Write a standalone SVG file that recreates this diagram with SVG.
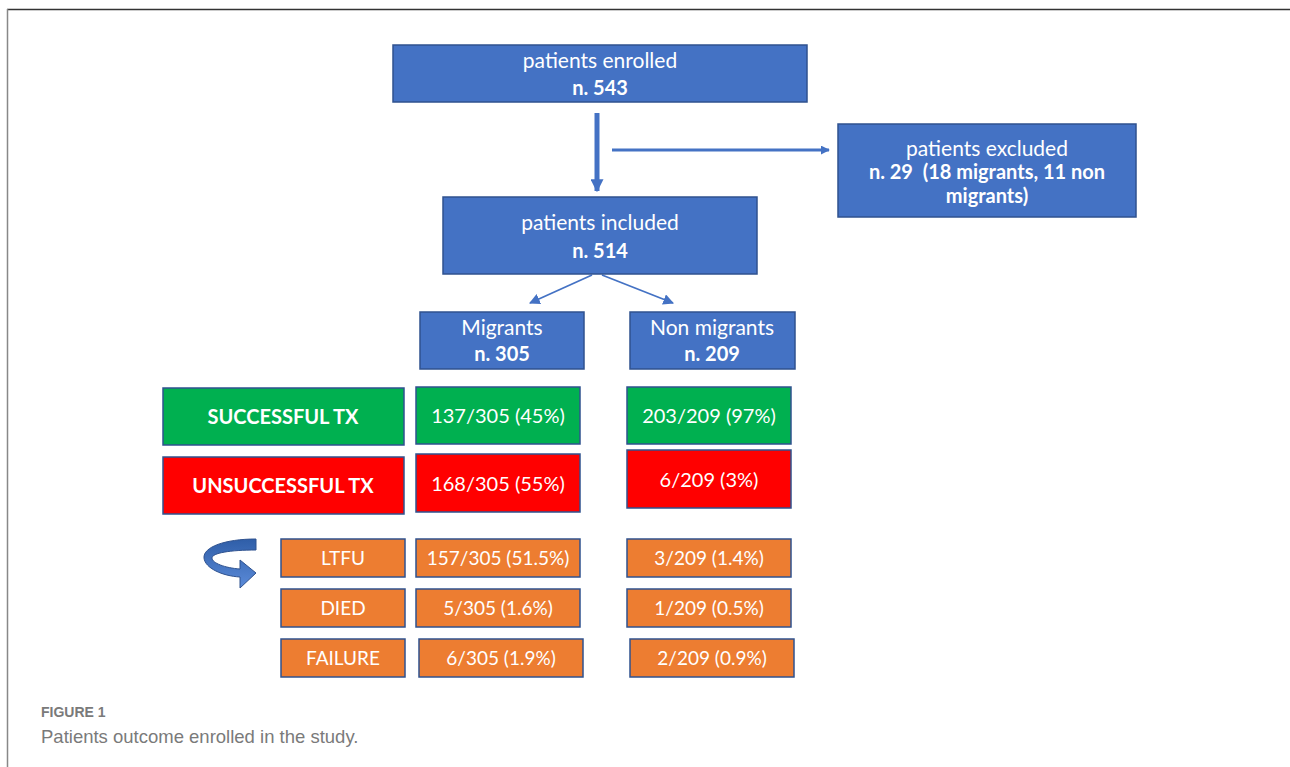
<svg xmlns="http://www.w3.org/2000/svg" width="1290" height="767" viewBox="0 0 1290 767">
<defs>
<style>
.b{fill:#4472C4;stroke:#2F528F;stroke-width:1.5}
.g{fill:#00B050;stroke:#2F528F;stroke-width:1.5}
.r{fill:#FF0000;stroke:#2F528F;stroke-width:1.5}
.o{fill:#ED7D31;stroke:#2F528F;stroke-width:1.5}
text{font-family:Lato,"Liberation Sans",Arial,sans-serif;fill:#fff;text-anchor:middle}
.t{font-size:21px}
.tb{font-size:20px;font-weight:bold}
.c{fill:#fff;font-size:20px}
.c2{fill:#fff;font-size:19px}
.cap{fill:#7a7a7a;text-anchor:start;font-family:"Liberation Sans",Arial,sans-serif}
.ln{stroke:#4472C4;fill:none}
</style>
<marker id="ah" viewBox="0 0 10 10" refX="9" refY="5" markerWidth="2.6" markerHeight="2.6" orient="auto" markerUnits="strokeWidth"><path d="M0,0 L10,5 L0,10 Z" fill="#4472C4"/></marker>
<marker id="ah3" viewBox="0 0 10 10" refX="9" refY="5" markerWidth="3" markerHeight="3" orient="auto" markerUnits="strokeWidth"><path d="M0,0 L10,5 L0,10 Z" fill="#4472C4"/></marker>
<marker id="ah2" viewBox="0 0 10 10" refX="9" refY="5" markerWidth="6" markerHeight="6" orient="auto" markerUnits="strokeWidth"><path d="M0,0 L10,5 L0,10 Z" fill="#4472C4"/></marker>
<linearGradient id="cg" x1="0" y1="0" x2="0" y2="1"><stop offset="0" stop-color="#2F5EA8"/><stop offset="1" stop-color="#5B8BD9"/></linearGradient>
</defs>
<rect x="0" y="0" width="1290" height="767" fill="#fff"/>
<g id="frame">
<line x1="7" y1="9.5" x2="1290" y2="9.5" stroke="#333" stroke-width="1.5"/>
<line x1="7.5" y1="9" x2="7.5" y2="767" stroke="#888" stroke-width="1.5"/>
</g>
<g id="connectors">
<line class="ln" x1="597" y1="113" x2="597" y2="191" stroke-width="5" marker-end="url(#ah)"/>
<line class="ln" x1="612" y1="150" x2="829" y2="150" stroke-width="3" marker-end="url(#ah3)"/>
<line class="ln" x1="592" y1="275" x2="530" y2="303" stroke-width="1.8" marker-end="url(#ah2)"/>
<line class="ln" x1="602" y1="275" x2="673" y2="303" stroke-width="1.8" marker-end="url(#ah2)"/>
<path id="curved-arrow" d="M 256 539 C 225 539, 203 547, 204 558 C 205 568, 222 576, 240 577 L 240 588 L 256 573 L 240 560 L 240 569 C 225 568, 212 563, 212 558 C 212 553, 230 550, 256 550 Z" fill="url(#cg)" stroke="#2F528F" stroke-width="1"/>
</g>
<g id="enrolled"><rect class="b" x="393" y="45" width="414" height="57"/><text class="t" x="600" y="68">patients enrolled</text><text class="tb" x="600" y="95">n. 543</text></g>
<g id="excluded"><rect class="b" x="838" y="124" width="298" height="93"/><text class="t" x="987" y="156">patients excluded</text><text class="tb" x="987" y="179" xml:space="preserve">n. 29&#160; (18 migrants, 11 non</text><text class="tb" x="987" y="203">migrants)</text></g>
<g id="included"><rect class="b" x="443" y="197" width="314" height="77"/><text class="t" x="600" y="230">patients included</text><text class="tb" x="600" y="258">n. 514</text></g>
<g id="migrants"><rect class="b" x="420" y="312" width="164" height="57"/><text class="t" x="502" y="335">Migrants</text><text class="tb" x="502" y="361">n. 305</text></g>
<g id="nonmigrants"><rect class="b" x="630" y="312" width="165" height="57"/><text class="t" x="712" y="335">Non migrants</text><text class="tb" x="712" y="361">n. 209</text></g>
<g id="successful"><rect class="g" x="163" y="388" width="241" height="57"/><text class="tb" x="283" y="424">SUCCESSFUL TX</text></g>
<g id="succ-m"><rect class="g" x="416" y="387" width="164" height="57"/><text class="c" x="498" y="423">137/305 (45%)</text></g>
<g id="succ-nm"><rect class="g" x="627" y="387" width="164" height="57"/><text class="c" x="709" y="423">203/209 (97%)</text></g>
<g id="unsuccessful"><rect class="r" x="163" y="457" width="241" height="57"/><text class="tb" x="283" y="493">UNSUCCESSFUL TX</text></g>
<g id="unsucc-m"><rect class="r" x="416" y="454" width="164" height="58"/><text class="c" x="498" y="491">168/305 (55%)</text></g>
<g id="unsucc-nm"><rect class="r" x="627" y="450" width="164" height="58"/><text class="c" x="709" y="487">6/209 (3%)</text></g>
<g id="ltfu"><rect class="o" x="281" y="539" width="124" height="38"/><text class="c2" x="343" y="565">LTFU</text></g>
<g id="ltfu-m"><rect class="o" x="416" y="539" width="164" height="38"/><text class="c2" x="498" y="565">157/305 (51.5%)</text></g>
<g id="ltfu-nm"><rect class="o" x="627" y="539" width="164" height="38"/><text class="c2" x="709" y="565">3/209 (1.4%)</text></g>
<g id="died"><rect class="o" x="281" y="589" width="124" height="38"/><text class="c2" x="343" y="615">DIED</text></g>
<g id="died-m"><rect class="o" x="416" y="589" width="164" height="38"/><text class="c2" x="498" y="615">5/305 (1.6%)</text></g>
<g id="died-nm"><rect class="o" x="627" y="589" width="164" height="38"/><text class="c2" x="709" y="615">1/209 (0.5%)</text></g>
<g id="failure"><rect class="o" x="281" y="639" width="124" height="38"/><text class="c2" x="343" y="665">FAILURE</text></g>
<g id="failure-m"><rect class="o" x="419" y="639" width="164" height="38"/><text class="c2" x="501" y="665">6/305 (1.9%)</text></g>
<g id="failure-nm"><rect class="o" x="630" y="639" width="164" height="38"/><text class="c2" x="712" y="665">2/209 (0.9%)</text></g>
<g id="caption">
<text class="cap" x="41" y="717" style="font-size:14px;font-weight:bold">FIGURE 1</text>
<text class="cap" x="41" y="743" style="font-size:18.5px">Patients outcome enrolled in the study.</text>
</g>
</svg>
